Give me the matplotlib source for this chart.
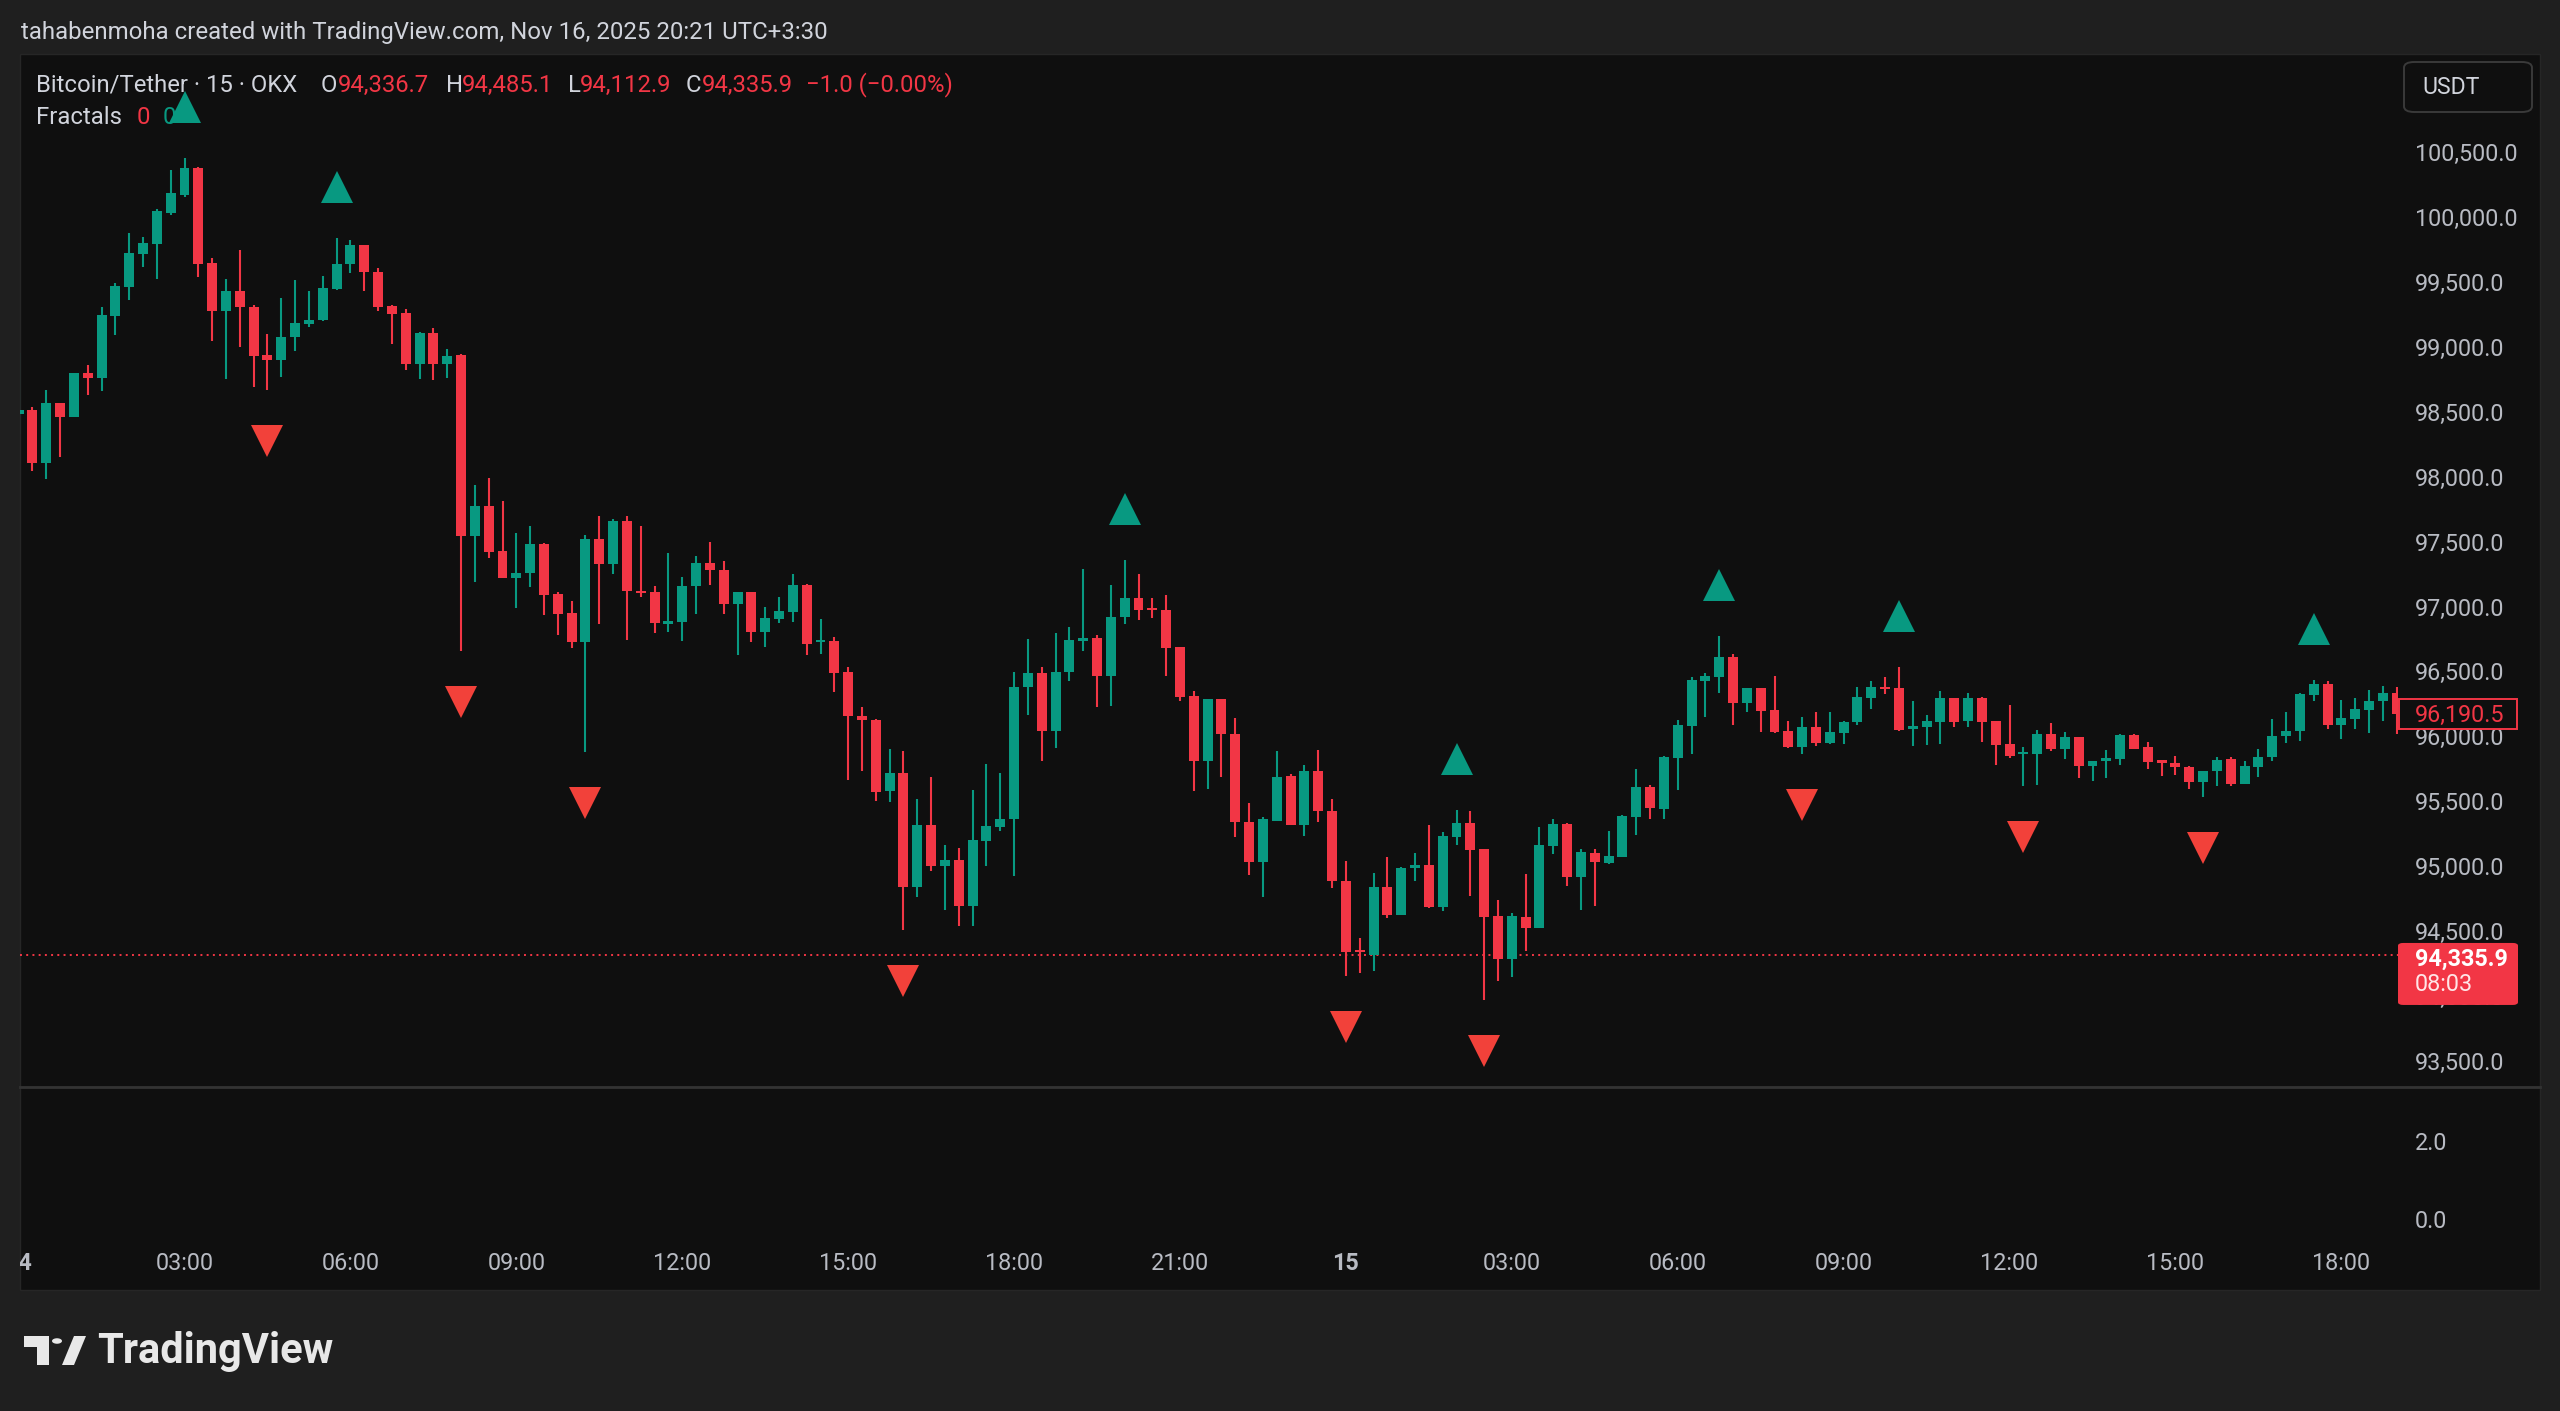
import matplotlib
matplotlib.use("Agg")
import matplotlib.pyplot as plt
import numpy as np
from matplotlib.patches import Rectangle, FancyBboxPatch, Polygon, Circle
from matplotlib.transforms import offset_copy, blended_transform_factory

# ---------------- data ----------------
opens = [98501, 98531, 98128, 98585, 98480, 98816, 98778, 99258, 99481, 99737,
         99814, 100053, 100189, 100394, 99663, 99296, 99445, 99327, 98955, 98919,
         99091, 99193, 99228, 99463, 99659, 99800, 99597, 99335, 99281, 98887,
         99125, 98887, 98958, 97559, 97796, 97445, 97240, 97275, 97500, 97119,
         96970, 96744, 97537, 97348, 97680, 97141, 97128, 96884, 96899, 97179,
         97351, 97300, 97038, 97128, 96820, 96923, 96974, 97187, 96745, 96751,
         96512, 96178, 96148, 95596, 95734, 94857, 95339, 95024, 95070, 94716,
         95216, 95324, 95383, 96397, 96504, 96063, 96512, 96756, 96776, 96486,
         96940, 97084, 97005, 96994, 96704, 96332, 95827, 96307, 96037, 95357,
         95054, 95370, 95716, 95339, 95755, 95447, 94908, 94375, 94338, 94862,
         94646, 95003, 95031, 94703, 95247, 95352, 95152, 94638, 94305, 94631,
         94544, 95178, 95344, 94934, 95119, 95042, 95093, 95401, 95632, 95460,
         95850, 96101, 96448, 96478, 96627, 96276, 96389, 96222, 96058, 95935,
         96088, 95965, 96045, 96127, 96314, 96402, 96389, 96078, 96094, 96132,
         96312, 96140, 96314, 96135, 95960, 95883, 95883, 96037, 95922, 96012,
         95793, 95827, 95845, 96032, 95935, 95832, 95811, 95786, 95670, 95750,
         95845, 95652, 95786, 95858, 96024, 96058, 96340, 96422, 96109, 96153,
         96222, 96289, 96350]
highs = [98975, 98552, 98685, 98590, 98820, 98880, 99327, 99514, 99899, 99861,
         100079, 100379, 100476, 100400, 99702, 99540, 99763, 99342, 99121, 99394,
         99532, 99450, 99562, 99860, 99845, 99805, 99624, 99340, 99314, 99130,
         99165, 99003, 98960, 97958, 98012, 97829, 97586, 97640, 97505, 97132,
         97060, 97572, 97716, 97690, 97720, 97641, 97179, 97431, 97248, 97410,
         97518, 97372, 97130, 97130, 97017, 97094, 97269, 97190, 96920, 96786,
         96550, 96242, 96150, 95922, 95909, 95537, 95709, 95185, 95160, 95606,
         95806, 95737, 96512, 96769, 96550, 96812, 96863, 97307, 96802, 97187,
         97379, 97269, 97084, 97110, 96706, 96371, 96310, 96310, 96160, 95503,
         95396, 95904, 95730, 95799, 95914, 95537, 95062, 94467, 94965, 95093,
         95010, 95118, 95339, 95280, 95452, 95442, 95155, 94759, 94657, 94960,
         95324, 95383, 95350, 95152, 95152, 95288, 95416, 95768, 95647, 95870,
         96145, 96473, 96504, 96794, 96653, 96392, 96392, 96481, 96140, 96165,
         96204, 96204, 96135, 96396, 96448, 96473, 96556, 96294, 96186, 96366,
         96315, 96350, 96325, 96140, 96260, 95940, 96068, 96119, 96050, 96015,
         95833, 95914, 96037, 96035, 95973, 95835, 95870, 95790, 95753, 95858,
         95858, 95827, 95922, 96153, 96204, 96350, 96455, 96448, 96299, 96314,
         96376, 96409, 96400]
lows = [98347, 98064, 98000, 98167, 98475, 98649, 98675, 99111, 99378, 99630,
        99540, 100035, 100174, 99558, 99065, 98770, 99014, 98706, 98685, 98783,
        98988, 99173, 99219, 99460, 99589, 99449, 99292, 99038, 98841, 98774,
        98760, 98779, 96673, 97208, 97392, 97235, 97005, 97167, 96951, 96798,
        96700, 95898, 96884, 97267, 96761, 97094, 96812, 96820, 96756, 96961,
        97184, 96961, 96648, 96743, 96704, 96889, 96897, 96648, 96653, 96358,
        95683, 95750, 95524, 95511, 94528, 94780, 94985, 94685, 94562, 94562,
        95024, 95293, 94942, 96186, 95832, 95929, 96448, 96679, 96248, 96255,
        96884, 96915, 96930, 96486, 96294, 95596, 95614, 95709, 95247, 94954,
        94780, 95365, 95335, 95255, 95357, 94852, 94177, 94195, 94215, 94621,
        94640, 94908, 94698, 94672, 95185, 94793, 93990, 94138, 94169, 94364,
        94540, 95113, 94870, 94682, 94716, 95036, 95088, 95262, 95383, 95383,
        95606, 95883, 96165, 96350, 96109, 96204, 96050, 96042, 95930, 95883,
        95947, 95960, 95960, 96109, 96230, 96345, 96058, 95947, 95955, 95960,
        96094, 96094, 95978, 95801, 95852, 95634, 95647, 95904, 95845, 95698,
        95678, 95698, 95801, 95920, 95768, 95716, 95724, 95614, 95555, 95640,
        95640, 95650, 95709, 95832, 95965, 95986, 96289, 96076, 96001, 96076,
        96042, 96140, 96040]
closes = [98532, 98128, 98585, 98480, 98816, 98778, 99265, 99489, 99745, 99822,
          100066, 100202, 100394, 99655, 99296, 99445, 99322, 98950, 98919, 99091,
          99199, 99224, 99470, 99659, 99800, 99597, 99327, 99273, 98887, 99125,
          98887, 98949, 97559, 97796, 97437, 97240, 97275, 97500, 97105, 96960,
          96744, 97537, 97348, 97680, 97136, 97125, 96892, 96905, 97179, 97351,
          97300, 97038, 97128, 96820, 96928, 96982, 97187, 96730, 96761, 96507,
          96178, 96148, 95588, 95734, 94857, 95339, 95024, 95070, 94716, 95224,
          95332, 95383, 96397, 96504, 96063, 96512, 96761, 96774, 96486, 96940,
          97084, 96992, 96992, 96699, 96319, 95827, 96307, 96037, 95357, 95054,
          95383, 95709, 95339, 95750, 95442, 94903, 94356, 94356, 94862, 94646,
          95003, 95029, 94703, 95255, 95352, 95147, 94631, 94305, 94639, 94544,
          95185, 95344, 94934, 95126, 95049, 95101, 95408, 95632, 95468, 95858,
          96106, 96455, 96481, 96627, 96276, 96389, 96217, 96050, 95935, 96088,
          95965, 96050, 96132, 96319, 96396, 96381, 96068, 96099, 96135, 96312,
          96132, 96312, 96132, 95955, 95870, 95901, 96037, 95922, 96012, 95793,
          95827, 95852, 96032, 95922, 95819, 95819, 95786, 95670, 95750, 95837,
          95652, 95793, 95858, 96024, 96058, 96345, 96422, 96109, 96160, 96230,
          96294, 96350, 96190.5]

fractal_up_idx = [12, 23, 80, 104, 123, 136, 166]
fractal_down_idx = [18, 32, 41, 64, 96, 106, 129, 145, 158]

price_ticks = [100500, 100000, 99500, 99000, 98500, 98000, 97500, 97000,
               96500, 96000, 95500, 95000, 94500, 94000, 93500]
time_tick_idx = [0, 12, 24, 36, 48, 60, 72, 84, 96, 108, 120, 132, 144, 156, 168]
time_tick_labels = ['14', '03:00', '06:00', '09:00', '12:00', '15:00', '18:00', '21:00',
                    '15', '03:00', '06:00', '09:00', '12:00', '15:00', '18:00']
lower_ticks = ['2.0', '0.0']

last_price = 94335.9
last_visible_close = 96190.5
countdown = '08:03'
ohlc_header = [('O', '94,336.7'), ('H', '94,485.1'), ('L', '94,112.9'), ('C', '94,335.9')]
change_text = '\u22121.0 (\u22120.00%)'
title_text = 'Bitcoin/Tether \u00b7 15 \u00b7 OKX'
credit_text = 'tahabenmoha created with TradingView.com, Nov 16, 2025 20:21 UTC+3:30'

# ---------------- style ----------------
W, H = 2560, 1411
BG_OUT = '#1f1f1f'
BG_PANEL = '#0f0f0f'
UP = '#089981'
DN = '#f23645'
FR_DN = '#f2413a'
TXT = '#d1d4dc'
AXT = '#b8bbc3'
FONT = 'Roboto'
plt.rcParams['font.family'] = [FONT, 'DejaVu Sans']

FS_HDR = 17.2
FS_AX = 16.8

fig = plt.figure(figsize=(W / 100, H / 100), dpi=100, facecolor=BG_OUT)


def fx(x):
    return x / W


def fy(y):
    return 1 - y / H


def rect(x0, y0, x1, y1):
    return [x0 / W, 1 - y1 / H, (x1 - x0) / W, (y1 - y0) / H]


# panel background
fig.add_artist(Rectangle((fx(20), fy(1290)), (2540 - 20) / W, (1290 - 54) / H,
                         transform=fig.transFigure, facecolor=BG_PANEL,
                         edgecolor='#262626', linewidth=1.0, zorder=0))

# ---------------- main pane ----------------
X0_PX, STEP_PX = 18.6, 13.826
ax = fig.add_axes(rect(20, 54, 2398, 1086))
ax.set_facecolor('none')
ax.set_axis_off()
ax.set_xlim((20 - X0_PX) / STEP_PX, (2398 - X0_PX) / STEP_PX)
ppx = (1063.5 - 154.5) / 7000.0  # pixels per price unit
ax.set_ylim(100500 - (1086 - 154.5) / ppx, 100500 + (154.5 - 54) / ppx)

o = np.array(opens, float)
h = np.array(highs, float)
l = np.array(lows, float)
c = np.array(closes, float)
idx = np.arange(len(o))
cols = np.where(c >= o, UP, DN)
body_lo = np.minimum(o, c)
body_h = np.abs(c - o)
min_h = 16.0
small = body_h < min_h
body_lo = np.where(small, (o + c) / 2 - min_h / 2, body_lo)
body_h = np.maximum(body_h, min_h)

ax.vlines(idx, l, h, colors=cols, linewidth=1.5, zorder=2)
ax.bar(idx, body_h, bottom=body_lo, width=0.72, color=cols, linewidth=0, zorder=3)

# fractals
tr_up = offset_copy(ax.transData, fig=fig, x=0, y=51, units='dots')
tr_dn = offset_copy(ax.transData, fig=fig, x=0, y=-51, units='dots')
ax.plot(fractal_up_idx, h[fractal_up_idx], linestyle='none', marker='^', ms=23,
        color=UP, markeredgewidth=0, transform=tr_up, zorder=5)
ax.plot(fractal_down_idx, l[fractal_down_idx], linestyle='none', marker='v', ms=23,
        color=FR_DN, markeredgewidth=0, transform=tr_dn, zorder=5)

# last price dotted line
ax.axhline(last_price, color=DN, linewidth=1.4, linestyle=(0, (1.0, 2.2)), zorder=1.5)

# header texts (drawn under the fractal markers)
ax.text(fx(36), fy(85), title_text, transform=fig.transFigure, color=TXT,
        fontsize=FS_HDR, va='center', ha='left', zorder=1, clip_on=False)
lab_x = [321, 446, 568, 686]
val_x = [338, 462, 580, 702]
for (lab, val), lx, vx in zip(ohlc_header, lab_x, val_x):
    ax.text(fx(lx), fy(85), lab, transform=fig.transFigure, color=TXT,
            fontsize=FS_HDR, va='center', ha='left', zorder=1, clip_on=False)
    ax.text(fx(vx), fy(85), val, transform=fig.transFigure, color=DN,
            fontsize=FS_HDR, va='center', ha='left', zorder=1, clip_on=False)
ax.text(fx(806), fy(85), change_text, transform=fig.transFigure, color=DN,
        fontsize=FS_HDR, va='center', ha='left', zorder=1, clip_on=False)
ax.text(fx(36), fy(118), 'Fractals', transform=fig.transFigure, color=TXT,
        fontsize=FS_HDR, va='center', ha='left', zorder=1, clip_on=False)
ax.text(fx(137), fy(118), '0', transform=fig.transFigure, color=DN,
        fontsize=FS_HDR, va='center', ha='left', zorder=1, clip_on=False)
ax.text(fx(163), fy(118), '0', transform=fig.transFigure, color=UP,
        fontsize=FS_HDR, va='center', ha='left', zorder=1, clip_on=False)

# credit line
fig.text(fx(21), fy(32), credit_text, color=TXT, fontsize=17.3, va='center', ha='left')

# ---------------- price axis ----------------
bt = blended_transform_factory(fig.transFigure, ax.transData)
for p in price_ticks:
    ax.text(fx(2415), p, f'{p:,.1f}', transform=bt, color=AXT, fontsize=FS_AX,
            va='center', ha='left', clip_on=False, zorder=6)

fig.canvas.draw()


def price_to_px(p):
    return H - ax.transData.transform((0, p))[1]


# last visible close label
yv = price_to_px(last_visible_close)
fig.add_artist(Rectangle((fx(2399), fy(yv + 15)), 118 / W, 30 / H, transform=fig.transFigure,
                         facecolor=BG_PANEL, edgecolor=DN, linewidth=1.4, zorder=7))
fig.text(fx(2415), fy(yv + 1), f'{last_visible_close:,.1f}', color=DN, fontsize=FS_AX,
         va='center', ha='left', zorder=8)

# last price label
yl = price_to_px(last_price)
fig.add_artist(FancyBboxPatch((fx(2398), fy(yl + 50)), 120 / W, 62 / H,
                              boxstyle='round,pad=0,rounding_size=0.002',
                              transform=fig.transFigure, facecolor=DN,
                              edgecolor='none', zorder=7))
fig.text(fx(2415), fy(yl + 4), f'{last_price:,.1f}', color='white', fontsize=FS_AX,
         fontweight='bold', va='center', ha='left', zorder=8)
fig.text(fx(2415), fy(yl + 30), countdown, color='#ffe5e7', fontsize=FS_AX,
         va='center', ha='left', zorder=8)

# currency box
fig.add_artist(FancyBboxPatch((fx(2404), fy(112)), 128 / W, 50 / H,
                              boxstyle='round,pad=0,rounding_size=0.004',
                              transform=fig.transFigure, facecolor=BG_PANEL,
                              edgecolor='#3a3a3a', linewidth=1.4, zorder=7))
fig.text(fx(2422), fy(87), 'USDT', color=TXT, fontsize=16.6, va='center', ha='left', zorder=8)

# ---------------- lower pane ----------------
fig.add_artist(plt.Line2D([fx(20), fx(2540)], [fy(1086.5), fy(1086.5)], transform=fig.transFigure,
                          color='#333333', linewidth=2.0, zorder=6))
for lab, yy in zip(lower_ticks, [1143, 1222]):
    fig.text(fx(2415), fy(yy), lab, color=AXT, fontsize=FS_AX, va='center', ha='left')

# ---------------- time axis ----------------
axt = fig.add_axes(rect(20, 1240, 2398, 1290))
axt.set_facecolor('none')
axt.set_axis_off()
axt.set_xlim(ax.get_xlim())
axt.set_ylim(0, 1)
for i, lab in zip(time_tick_idx, time_tick_labels):
    bold = lab in ('14', '15')
    axt.text(i, 0.54, lab, color=AXT, fontsize=FS_AX, ha='center', va='center',
             fontweight='bold' if bold else 'normal', clip_on=True)

# ---------------- TradingView logo ----------------
lc = '#e8e8e8'
fig.add_artist(Polygon([(fx(24), fy(1336)), (fx(49), fy(1336)), (fx(49), fy(1365)),
                        (fx(37), fy(1365)), (fx(37), fy(1347)), (fx(24), fy(1347))],
                       closed=True, transform=fig.transFigure, facecolor=lc, edgecolor='none'))
fig.add_artist(Circle((fx(57), fy(1341)), 5.0 / W, transform=fig.transFigure,
                      facecolor=lc, edgecolor='none'))
fig.add_artist(Polygon([(fx(62), fy(1365)), (fx(74), fy(1365)), (fx(86), fy(1336)),
                        (fx(74), fy(1336))], closed=True, transform=fig.transFigure,
                       facecolor=lc, edgecolor='none'))
fig.text(fx(97), fy(1351), 'TradingView', color=lc, fontsize=30, fontweight='bold',
         va='center', ha='left')

fig.savefig('out.png', dpi=100, facecolor=BG_OUT)
